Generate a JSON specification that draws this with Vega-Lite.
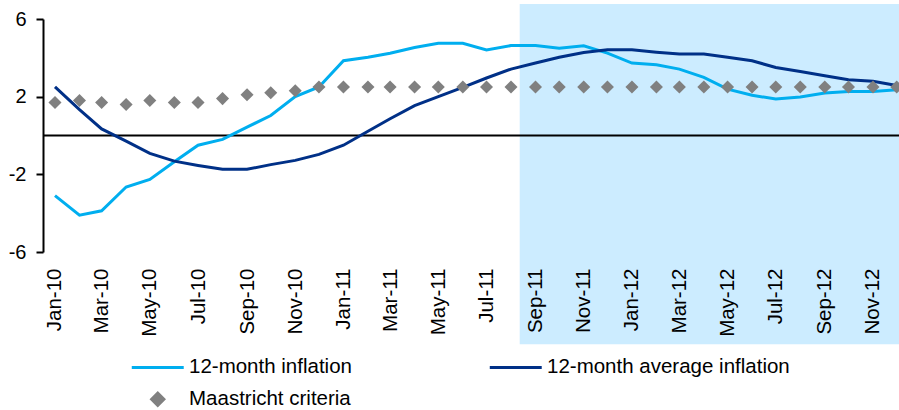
{
  "$schema": "https://vega.github.io/schema/vega-lite/v6.json",
  "width": 856,
  "height": 233,
  "autosize": "none",
  "padding": {"left": 43, "top": 19, "right": 0, "bottom": 158},
  "background": "white",
  "config": {
    "view": {"stroke": null},
    "font": "Liberation Sans"
  },
  "datasets": {
    "series": [
      {"month": "2010-01", "series": "12-month inflation", "value": -3.1},
      {"month": "2010-02", "series": "12-month inflation", "value": -4.1},
      {"month": "2010-03", "series": "12-month inflation", "value": -3.88},
      {"month": "2010-04", "series": "12-month inflation", "value": -2.65},
      {"month": "2010-05", "series": "12-month inflation", "value": -2.26},
      {"month": "2010-06", "series": "12-month inflation", "value": -1.35},
      {"month": "2010-07", "series": "12-month inflation", "value": -0.5},
      {"month": "2010-08", "series": "12-month inflation", "value": -0.2},
      {"month": "2010-09", "series": "12-month inflation", "value": 0.43},
      {"month": "2010-10", "series": "12-month inflation", "value": 1.03},
      {"month": "2010-11", "series": "12-month inflation", "value": 2.0},
      {"month": "2010-12", "series": "12-month inflation", "value": 2.5},
      {"month": "2011-01", "series": "12-month inflation", "value": 3.85},
      {"month": "2011-02", "series": "12-month inflation", "value": 4.03},
      {"month": "2011-03", "series": "12-month inflation", "value": 4.24},
      {"month": "2011-04", "series": "12-month inflation", "value": 4.53},
      {"month": "2011-05", "series": "12-month inflation", "value": 4.75},
      {"month": "2011-06", "series": "12-month inflation", "value": 4.75},
      {"month": "2011-07", "series": "12-month inflation", "value": 4.41},
      {"month": "2011-08", "series": "12-month inflation", "value": 4.63},
      {"month": "2011-09", "series": "12-month inflation", "value": 4.63},
      {"month": "2011-10", "series": "12-month inflation", "value": 4.5},
      {"month": "2011-11", "series": "12-month inflation", "value": 4.62},
      {"month": "2011-12", "series": "12-month inflation", "value": 4.24},
      {"month": "2012-01", "series": "12-month inflation", "value": 3.73},
      {"month": "2012-02", "series": "12-month inflation", "value": 3.64},
      {"month": "2012-03", "series": "12-month inflation", "value": 3.42},
      {"month": "2012-04", "series": "12-month inflation", "value": 2.99},
      {"month": "2012-05", "series": "12-month inflation", "value": 2.39},
      {"month": "2012-06", "series": "12-month inflation", "value": 2.07},
      {"month": "2012-07", "series": "12-month inflation", "value": 1.88},
      {"month": "2012-08", "series": "12-month inflation", "value": 1.98},
      {"month": "2012-09", "series": "12-month inflation", "value": 2.19},
      {"month": "2012-10", "series": "12-month inflation", "value": 2.26},
      {"month": "2012-11", "series": "12-month inflation", "value": 2.26},
      {"month": "2012-12", "series": "12-month inflation", "value": 2.36},
      {"month": "2010-01", "series": "12-month average inflation", "value": 2.5},
      {"month": "2010-02", "series": "12-month average inflation", "value": 1.33},
      {"month": "2010-03", "series": "12-month average inflation", "value": 0.34},
      {"month": "2010-04", "series": "12-month average inflation", "value": -0.29},
      {"month": "2010-05", "series": "12-month average inflation", "value": -0.92},
      {"month": "2010-06", "series": "12-month average inflation", "value": -1.32},
      {"month": "2010-07", "series": "12-month average inflation", "value": -1.54},
      {"month": "2010-08", "series": "12-month average inflation", "value": -1.74},
      {"month": "2010-09", "series": "12-month average inflation", "value": -1.74},
      {"month": "2010-10", "series": "12-month average inflation", "value": -1.5},
      {"month": "2010-11", "series": "12-month average inflation", "value": -1.28},
      {"month": "2010-12", "series": "12-month average inflation", "value": -0.97},
      {"month": "2011-01", "series": "12-month average inflation", "value": -0.5},
      {"month": "2011-02", "series": "12-month average inflation", "value": 0.22},
      {"month": "2011-03", "series": "12-month average inflation", "value": 0.86},
      {"month": "2011-04", "series": "12-month average inflation", "value": 1.54},
      {"month": "2011-05", "series": "12-month average inflation", "value": 2.0},
      {"month": "2011-06", "series": "12-month average inflation", "value": 2.48},
      {"month": "2011-07", "series": "12-month average inflation", "value": 2.96},
      {"month": "2011-08", "series": "12-month average inflation", "value": 3.42},
      {"month": "2011-09", "series": "12-month average inflation", "value": 3.73},
      {"month": "2011-10", "series": "12-month average inflation", "value": 4.03},
      {"month": "2011-11", "series": "12-month average inflation", "value": 4.27},
      {"month": "2011-12", "series": "12-month average inflation", "value": 4.41},
      {"month": "2012-01", "series": "12-month average inflation", "value": 4.41},
      {"month": "2012-02", "series": "12-month average inflation", "value": 4.29},
      {"month": "2012-03", "series": "12-month average inflation", "value": 4.2},
      {"month": "2012-04", "series": "12-month average inflation", "value": 4.2},
      {"month": "2012-05", "series": "12-month average inflation", "value": 4.03},
      {"month": "2012-06", "series": "12-month average inflation", "value": 3.85},
      {"month": "2012-07", "series": "12-month average inflation", "value": 3.5},
      {"month": "2012-08", "series": "12-month average inflation", "value": 3.3},
      {"month": "2012-09", "series": "12-month average inflation", "value": 3.08},
      {"month": "2012-10", "series": "12-month average inflation", "value": 2.87},
      {"month": "2012-11", "series": "12-month average inflation", "value": 2.79},
      {"month": "2012-12", "series": "12-month average inflation", "value": 2.58},
      {"month": "2010-01", "series": "Maastricht criteria", "value": 1.7},
      {"month": "2010-02", "series": "Maastricht criteria", "value": 1.8},
      {"month": "2010-03", "series": "Maastricht criteria", "value": 1.7},
      {"month": "2010-04", "series": "Maastricht criteria", "value": 1.6},
      {"month": "2010-05", "series": "Maastricht criteria", "value": 1.8},
      {"month": "2010-06", "series": "Maastricht criteria", "value": 1.7},
      {"month": "2010-07", "series": "Maastricht criteria", "value": 1.7},
      {"month": "2010-08", "series": "Maastricht criteria", "value": 1.9},
      {"month": "2010-09", "series": "Maastricht criteria", "value": 2.1},
      {"month": "2010-10", "series": "Maastricht criteria", "value": 2.2},
      {"month": "2010-11", "series": "Maastricht criteria", "value": 2.3},
      {"month": "2010-12", "series": "Maastricht criteria", "value": 2.5},
      {"month": "2011-01", "series": "Maastricht criteria", "value": 2.5},
      {"month": "2011-02", "series": "Maastricht criteria", "value": 2.5},
      {"month": "2011-03", "series": "Maastricht criteria", "value": 2.5},
      {"month": "2011-04", "series": "Maastricht criteria", "value": 2.5},
      {"month": "2011-05", "series": "Maastricht criteria", "value": 2.5},
      {"month": "2011-06", "series": "Maastricht criteria", "value": 2.5},
      {"month": "2011-07", "series": "Maastricht criteria", "value": 2.5},
      {"month": "2011-08", "series": "Maastricht criteria", "value": 2.5},
      {"month": "2011-09", "series": "Maastricht criteria", "value": 2.5},
      {"month": "2011-10", "series": "Maastricht criteria", "value": 2.5},
      {"month": "2011-11", "series": "Maastricht criteria", "value": 2.5},
      {"month": "2011-12", "series": "Maastricht criteria", "value": 2.5},
      {"month": "2012-01", "series": "Maastricht criteria", "value": 2.5},
      {"month": "2012-02", "series": "Maastricht criteria", "value": 2.5},
      {"month": "2012-03", "series": "Maastricht criteria", "value": 2.5},
      {"month": "2012-04", "series": "Maastricht criteria", "value": 2.5},
      {"month": "2012-05", "series": "Maastricht criteria", "value": 2.5},
      {"month": "2012-06", "series": "Maastricht criteria", "value": 2.5},
      {"month": "2012-07", "series": "Maastricht criteria", "value": 2.5},
      {"month": "2012-08", "series": "Maastricht criteria", "value": 2.5},
      {"month": "2012-09", "series": "Maastricht criteria", "value": 2.5},
      {"month": "2012-10", "series": "Maastricht criteria", "value": 2.5},
      {"month": "2012-11", "series": "Maastricht criteria", "value": 2.5},
      {"month": "2012-12", "series": "Maastricht criteria", "value": 2.5}
    ]
  },
  "data": {"name": "series", "format": {"parse": {"month": "date:'%Y-%m'"}}},
  "layer": [
    {
      "data": {"values": [{"label": "forecast"}]},
      "mark": {"type": "rect", "color": "#CCECFF"},
      "encoding": {
        "x": {"datum": {"year": 2011, "month": 8, "date": 12}, "type": "temporal"},
        "x2": {"datum": {"year": 2013, "month": 1, "date": 31}},
        "y": {"datum": 6.77, "type": "quantitative"},
        "y2": {"datum": -10.75}
      }
    },
    {
      "data": {"values": [{"label": "zero"}]},
      "mark": {"type": "rule", "color": "black", "strokeWidth": 2},
      "encoding": {
        "y": {"datum": 0, "type": "quantitative"}
      }
    },
    {
      "transform": [{"filter": "datum.series !== 'Maastricht criteria'"}],
      "mark": {"type": "line", "strokeWidth": 3},
      "encoding": {
        "x": {
          "field": "month",
          "type": "temporal",
          "scale": {
            "domain": [
              {"year": 2009, "month": 12, "date": 16, "hours": 20},
              {"year": 2012, "month": 12, "date": 3, "hours": 22}
            ]
          },
          "axis": {
            "title": null,
            "format": "%b-%y",
            "tickCount": {"interval": "month", "step": 2},
            "labelAngle": 270,
            "labelAlign": "right",
            "labelBaseline": "middle",
            "labelFontSize": 20.5,
            "labelColor": "black",
            "labelPadding": 16,
            "labelOverlap": false,
            "labelFlush": false,
            "domain": false,
            "ticks": false,
            "grid": false,
            "zindex": 1
          }
        },
        "y": {
          "field": "value",
          "type": "quantitative",
          "scale": {"domain": [-6, 6], "nice": false, "zero": false},
          "axis": {
            "title": null,
            "values": [-6, -4, -2, 0, 2, 4, 6],
            "labelExpr": "datum.value < 0 ? '-' + abs(datum.value) : '' + datum.value",
            "labelFontSize": 20,
            "labelColor": "black",
            "labelPadding": 10,
            "tickSize": 7,
            "tickColor": "black",
            "tickWidth": 2,
            "domainColor": "black",
            "domainWidth": 2,
            "grid": false,
            "zindex": 1
          }
        },
        "color": {
          "field": "series",
          "type": "nominal",
          "scale": {
            "domain": ["12-month inflation", "12-month average inflation", "Maastricht criteria"],
            "range": ["#00AEEF", "#003087", "#808080"]
          },
          "legend": {
            "title": null,
            "orient": "none",
            "legendX": 89,
            "legendY": 338,
            "direction": "horizontal",
            "columns": 2,
            "columnPadding": 131,
            "rowPadding": 9,
            "padding": 0,
            "symbolSize": 144,
            "symbolOffset": 15.5,
            "labelFontSize": 20.5,
            "labelColor": "black",
            "labelOffset": 21,
            "labelLimit": 400,
            "encode": {
              "symbols": {
                "update": {
                  "shape": {"signal": "datum.value === 'Maastricht criteria' ? 'diamond' : 'M-4.33,0H4.33'"},
                  "size": {"signal": "datum.value === 'Maastricht criteria' ? 150 : 144"},
                  "stroke": {"signal": "datum.value === 'Maastricht criteria' ? 'transparent' : (datum.value === '12-month inflation' ? '#00AEEF' : '#003087')"},
                  "fill": {"signal": "datum.value === 'Maastricht criteria' ? '#808080' : 'transparent'"},
                  "strokeWidth": {"value": 3},
                  "opacity": {"value": 1}
                }
              }
            }
          }
        }
      }
    },
    {
      "transform": [{"filter": "datum.series === 'Maastricht criteria'"}],
      "mark": {"type": "point", "shape": "diamond", "filled": true, "size": 170, "opacity": 1},
      "encoding": {
        "x": {"field": "month", "type": "temporal"},
        "y": {"field": "value", "type": "quantitative"},
        "color": {"field": "series", "type": "nominal"}
      }
    }
  ]
}
